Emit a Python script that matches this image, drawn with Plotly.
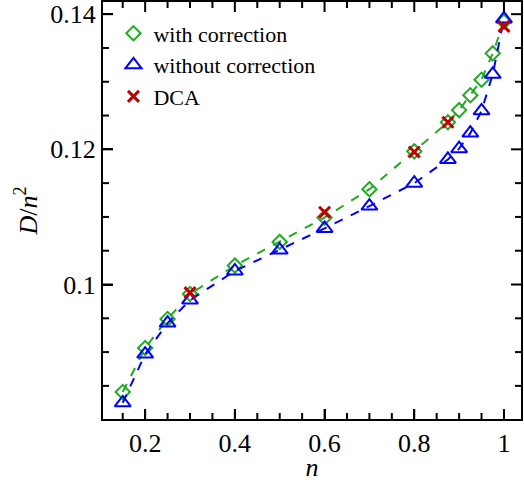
import numpy as np
import plotly.graph_objects as go

# data
n_vals = [0.15, 0.2, 0.25, 0.3, 0.4, 0.5, 0.6, 0.7, 0.8, 0.875, 0.9, 0.925, 0.95, 0.975, 1.0]
with_corr = [0.0841, 0.0906, 0.0949, 0.0986, 0.1028, 0.1063, 0.1099, 0.1141, 0.1197, 0.1240, 0.1258, 0.1280, 0.1303, 0.1342, 0.1389]
without_corr = [0.0825, 0.0897, 0.0943, 0.0977, 0.1020, 0.1051, 0.1083, 0.1116, 0.1150, 0.1185, 0.1201, 0.1224, 0.1257, 0.1311, 0.1393]
dca_n = [0.3, 0.6, 0.8, 0.875, 1.0]
dca_vals = [0.0988, 0.1107, 0.1196, 0.1240, 0.1382]

green = "#22aa22"
blue = "#0000ff"
red = "#c00000"
font = "Liberation Serif, Times New Roman, serif"

W, H = 524, 482
L, R, T, B = 103, 3, 2, 63
xr = [0.106, 1.038]
yr = [0.0801, 0.1418]

fig = go.Figure()
fig.add_trace(go.Scatter(x=n_vals, y=with_corr, mode="lines", showlegend=False,
                         line=dict(color=green, width=2, dash="dash")))
fig.add_trace(go.Scatter(x=n_vals, y=with_corr, mode="markers", name="with correction",
                         marker=dict(symbol="diamond-open", size=11, color=green, line=dict(width=2, color=green))))
fig.add_trace(go.Scatter(x=n_vals, y=without_corr, mode="lines", showlegend=False,
                         line=dict(color=blue, width=2, dash="dash")))
fig.add_trace(go.Scatter(x=n_vals, y=without_corr, mode="markers", name="without correction",
                         marker=dict(symbol="triangle-up-open", size=14, color=blue, line=dict(width=2, color=blue))))
fig.add_trace(go.Scatter(x=dca_n, y=dca_vals, mode="markers", name="DCA",
                         marker=dict(symbol="x-thin", size=11, color=red, line=dict(width=3, color=red))))

axis_common = dict(showline=True, linewidth=2, linecolor="black", mirror=True,
                   ticks="inside", ticklen=10, tickwidth=2, tickcolor="black",
                   showgrid=False, zeroline=False, automargin=False,
                   tickfont=dict(family=font, size=26, color="black"))

fig.update_xaxes(range=xr, tickmode="linear", tick0=0, dtick=0.2,
                 title=dict(text="<i>n</i>", font=dict(family=font, size=26, color="black"), standoff=6),
                 **axis_common)
fig.update_yaxes(range=yr, tickmode="linear", tick0=0, dtick=0.02,
                 title=dict(text="<i>D</i>/<i>n</i><sup>2</sup>", font=dict(family=font, size=26, color="black"), standoff=5),
                 **axis_common)

# inward tick marks on all four sides (major + minor)
pw, ph = W - L - R, H - T - B
tick_line = dict(color="black", width=2)
for v in np.round(np.arange(0.05, 1.05, 0.05), 3):
    if not (xr[0] < v < xr[1]):
        continue
    ln = 10 if abs(v / 0.2 - round(v / 0.2)) < 1e-6 else 6
    f = ln / ph
    fig.add_shape(type="line", xref="x", yref="y domain", x0=v, x1=v, y0=0, y1=f, line=tick_line, layer="above")
    fig.add_shape(type="line", xref="x", yref="y domain", x0=v, x1=v, y0=1, y1=1 - f, line=tick_line, layer="above")
for v in np.round(np.arange(0.08, 0.145, 0.005), 4):
    if not (yr[0] < v < yr[1]):
        continue
    ln = 10 if abs(v / 0.02 - round(v / 0.02)) < 1e-6 else 6
    f = ln / pw
    fig.add_shape(type="line", xref="x domain", yref="y", x0=0, x1=f, y0=v, y1=v, line=tick_line, layer="above")
    fig.add_shape(type="line", xref="x domain", yref="y", x0=1, x1=1 - f, y0=v, y1=v, line=tick_line, layer="above")

fig.update_layout(width=W, height=H, margin=dict(l=L, r=R, t=T, b=B),
                  plot_bgcolor="white", paper_bgcolor="white",
                  font=dict(family=font, color="black"),
                  legend=dict(x=0.025, y=0.975, xanchor="left", yanchor="top",
                              bgcolor="rgba(0,0,0,0)", font=dict(family=font, size=22, color="black"),
                              itemwidth=30, tracegroupgap=0))

fig.write_html("out.html", config={"displayModeBar": False},
               post_script="document.body.style.margin='0';")
